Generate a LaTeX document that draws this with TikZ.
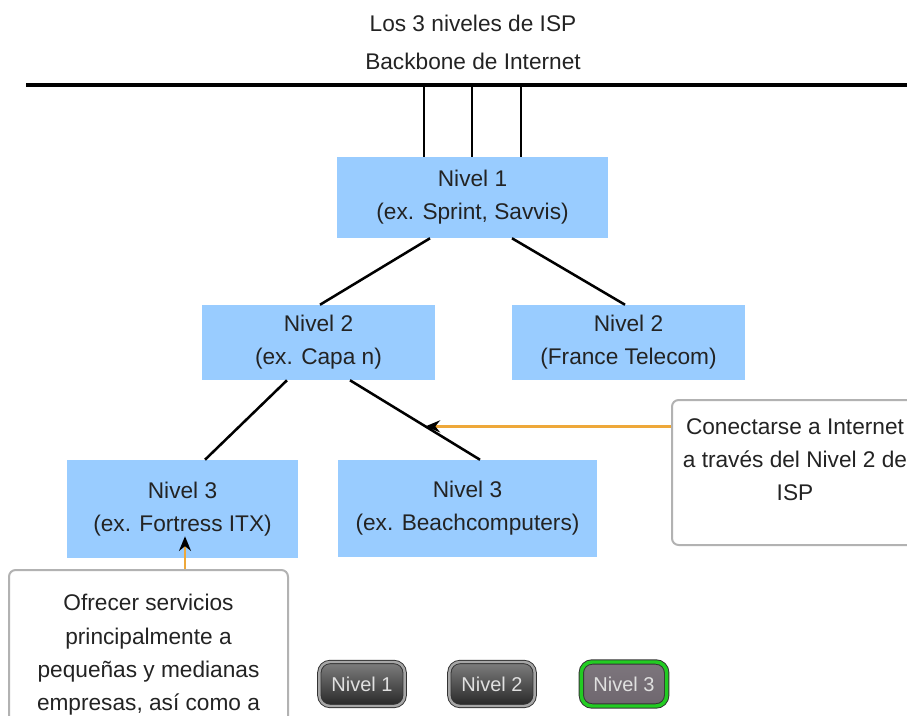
\documentclass[tikz,border=0pt]{standalone}
\usepackage{fontspec}
\setmainfont{Liberation Sans}
\usepackage{xcolor}
\usepackage{tikz}
\usetikzlibrary{calc}
\usetikzlibrary{positioning,arrows.meta}

\definecolor{boxblue}{RGB}{153,204,255}
\definecolor{calloutgray}{RGB}{178,178,178}
\definecolor{arroworange}{RGB}{238,168,58}
\definecolor{textgray}{RGB}{35,35,35}
\definecolor{btngreen}{RGB}{34,204,34}

\tikzset{
  nivelbox/.style={fill=boxblue, draw=none, align=center, inner sep=0pt, text=textgray},
  calloutbox/.style={draw=calloutgray, line width=1.5pt, fill=white, rounded corners=5pt, inner sep=0pt},
  callouttext/.style={align=center, inner sep=0pt, text=textgray, anchor=north,
    font=\fontsize{17}{25}\selectfont},
  link/.style={line width=1.9pt, black},
  backbone/.style={line width=2.5pt, black},
  pointer/.style={line width=2pt, arroworange, -{Stealth[black,length=11pt,width=9pt]}},
  tabbtn/.style={rounded corners=8pt, draw=black!80, line width=0.7pt, double=black!35, double distance=1.8pt,
    top color=black!50, bottom color=black!85, text=white!88!black, minimum width=64pt, minimum height=33pt,
    inner sep=0pt, font=\fontsize{15}{18}\selectfont},
  tabbtnon/.style={tabbtn, top color={rgb,255:red,125;green,118;blue,125}, bottom color={rgb,255:red,110;green,102;blue,110},
    double=btngreen, double distance=2.6pt}
}

\begin{document}
\begin{tikzpicture}[x=0.75pt,y=0.75pt,yscale=-1,xscale=1,font=\fontsize{17}{24.75}\selectfont]
  \useasboundingbox (0,0) rectangle (907,715);
  \clip (0,0) rectangle (907,715);

  % Text Node
  \node [text=textgray, inner sep=0pt] (title) at (473,23) {Los 3 niveles de ISP};
  % Text Node
  \node [text=textgray, inner sep=0pt] (bbtext) at (473,61) {Backbone de Internet};

  %Backbone line
  \coordinate (bbL) at (26,85);
  \coordinate (bbR) at (907,85);
  \draw [backbone] (bbL) -- (bbR);

  %Nivel boxes
  \node [nivelbox, minimum width=203.25pt, minimum height=60.75pt] (n1) at (472.5,197.5) {Nivel 1\\(ex. Sprint, Savvis)};
  \node [nivelbox, minimum width=174.75pt, minimum height=56.25pt] (n2a) at (318.5,342.5) {Nivel 2\\(ex. Capa n)};
  \node [nivelbox, minimum width=174.75pt, minimum height=56.25pt] (n2b) at (628.5,342.5) {Nivel 2\\(France Telecom)};
  \node [nivelbox, minimum width=173.25pt, minimum height=73.5pt] (n3a) at (182.5,509) {Nivel 3\\(ex. Fortress ITX)};
  \node [nivelbox, minimum width=194.25pt, minimum height=72.75pt] (n3b) at (467.5,508.5) {Nivel 3\\(ex. Beachcomputers)};

  %Links to the backbone
  \foreach \dx in {-48.5,-0.5,48.5}
    \draw [link] ($(n1.north)+(\dx,0)$) -- ($(bbL -| n1.north)+(\dx,0)$);

  %Links between levels
  \draw [link] ($(n1.south)+(-42.5,0)$) -- ($(n2a.north)+(1.5,0)$);
  \draw [link] ($(n1.south)+(39.5,0)$) -- ($(n2b.north)+(-3.5,0)$);
  \draw [link] ($(n2a.south)+(-31.5,0)$) -- ($(n3a.north)+(22.5,0)$);
  \draw [link] ($(n2a.south)+(31.5,0)$) -- ($(n3b.north)+(12.5,0)$) coordinate [pos=0.58] (hitR);

  %Callout right
  \node [calloutbox, minimum width=184.5pt, minimum height=108.75pt] (callR) at (795,472.5) {};
  % Text Node
  \node [callouttext] (callRtxt) at ($(callR.north)+(0,19)$) {Conectarse a Internet\\a través del Nivel 2 de\\ISP};
  \draw [pointer] (hitR -| callR.west) -- (hitR);

  %Callout left
  \node [calloutbox, minimum width=209.25pt, minimum height=150pt] (callL) at (148.5,670) {};
  % Text Node
  \node [callouttext] (callLtxt) at ($(callL.north)+(0,25)$) {Ofrecer servicios\\principalmente a\\pequeñas y medianas\\empresas, así como a};
  \coordinate (tipL) at ($(n3a.south)+(2.5,-22)$);
  \draw [pointer] (tipL |- callL.north) -- (tipL);

  %Level buttons
  \node [tabbtn] (btn1) at (362,684) {Nivel 1};
  \node [tabbtn] (btn2) at (492,684) {Nivel 2};
  \node [tabbtnon] (btn3) at (624,684) {Nivel 3};
\end{tikzpicture}
\end{document}
